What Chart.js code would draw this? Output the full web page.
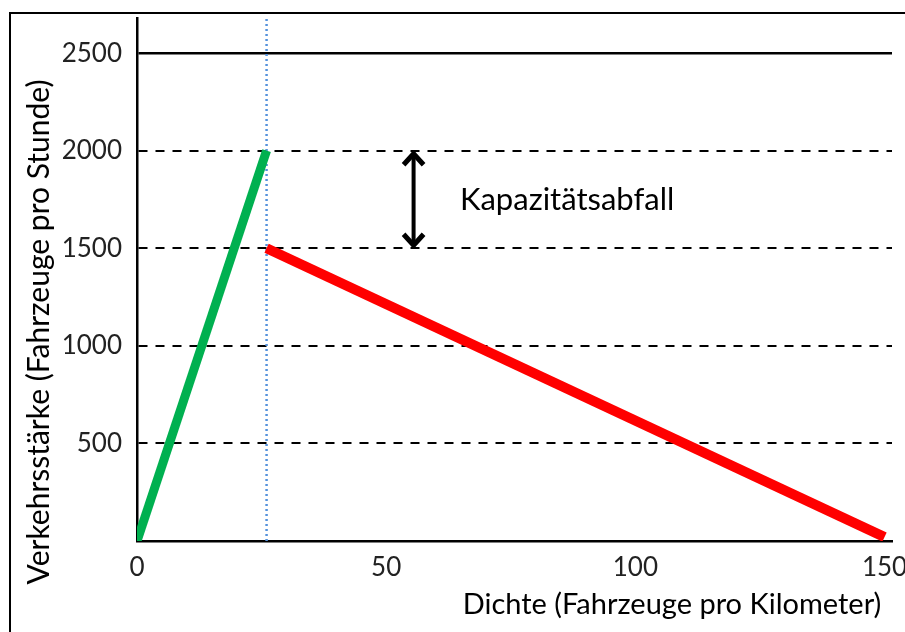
<!DOCTYPE html>
<html>
<head>
<meta charset="utf-8">
<script src="https://cdn.jsdelivr.net/npm/chart.js@4/dist/chart.umd.min.js"></script>
<style>
  html, body { margin: 0; padding: 0; background: #fff; }
  canvas { display: block; }
</style>
</head>
<body>
<canvas id="fundamental" width="905" height="632"></canvas>
<script>
// Daten
const freeX = [0, 26];          // freier Verkehr
const freeY = [0, 2000];
const jamX = [26, 150];         // gestauter Verkehr
const jamY = [1500, 20];
const markX = [26, 26];         // gepunktete Linie bei der kritischen Dichte
const markY = [0, 2680];
const xTicks = [0, 50, 100, 150];
const yTicks = [500, 1000, 1500, 2000, 2500];
const dropX = 55.5;             // Lage des Doppelpfeils
const dropY = [2000, 1500];
const dropLabel = 'Kapazitätsabfall';
const xTitle = 'Dichte (Fahrzeuge pro Kilometer)';
const yTitle = 'Verkehrsstärke (Fahrzeuge pro Stunde)';

const FONT = 'Lato, "Open Sans", sans-serif';

function toPoints(xs, ys) {
  return xs.map((x, i) => ({ x: x, y: ys[i] }));
}

// Rahmen, Achsentitel, Pfeil und Beschriftung
const extras = {
  id: 'extras',
  beforeDraw(chart) {
    const ctx = chart.ctx;
    ctx.save();
    ctx.fillStyle = '#fff';
    ctx.fillRect(0, 0, chart.width, chart.height);
    ctx.restore();
  },
  afterDraw(chart) {
    const ctx = chart.ctx;
    const xs = chart.scales.x, ys = chart.scales.y;
    ctx.save();
    // äußerer Rahmen
    ctx.strokeStyle = '#000';
    ctx.lineWidth = 2;
    ctx.strokeRect(10, 13, 1000, 1000);

    // Achsentitel
    ctx.fillStyle = '#000';
    ctx.font = '29px ' + FONT;
    ctx.textAlign = 'center';
    ctx.textBaseline = 'middle';
    ctx.fillText(xTitle, 672, 605);
    ctx.save();
    ctx.translate(39, 332);
    ctx.rotate(-Math.PI / 2);
    ctx.font = '30px ' + FONT;
    ctx.fillText(yTitle, 0, 0);
    ctx.restore();

    // Doppelpfeil
    const ax = xs.getPixelForValue(dropX);
    const top = ys.getPixelForValue(dropY[0]);
    const bot = ys.getPixelForValue(dropY[1]);
    ctx.strokeStyle = '#000';
    ctx.lineWidth = 4;
    ctx.beginPath();
    ctx.moveTo(ax, top + 2);
    ctx.lineTo(ax, bot - 2);
    ctx.stroke();
    ctx.lineWidth = 5;
    ctx.lineJoin = 'miter';
    ctx.beginPath();
    ctx.moveTo(ax - 10, top + 14);
    ctx.lineTo(ax, top + 3);
    ctx.lineTo(ax + 10, top + 14);
    ctx.moveTo(ax - 10, bot - 14);
    ctx.lineTo(ax, bot - 3);
    ctx.lineTo(ax + 10, bot - 14);
    ctx.stroke();

    // Beschriftung
    ctx.font = '31px ' + FONT;
    ctx.textAlign = 'left';
    ctx.fillText(dropLabel, 460, (top + bot) / 2 + 1);
    ctx.restore();
  }
};

new Chart(document.getElementById('fundamental'), {
  type: 'line',
  data: {
    datasets: [
      {
        data: toPoints(markX, markY),
        borderColor: '#5592dc',
        borderWidth: 2.5,
        borderDash: [2, 3],
        pointRadius: 0,
        order: 3
      },
      {
        data: toPoints(freeX, freeY),
        borderColor: '#00b050',
        borderWidth: 9,
        pointRadius: 0,
        order: 2
      },
      {
        data: toPoints(jamX, jamY),
        borderColor: '#ff0000',
        borderWidth: 10,
        pointRadius: 0,
        order: 1
      }
    ]
  },
  options: {
    responsive: false,
    animation: false,
    layout: { padding: { top: 18, right: 13, left: 0, bottom: 0 } },
    plugins: { legend: { display: false }, tooltip: { enabled: false } },
    scales: {
      x: {
        type: 'linear',
        min: 0,
        max: 151.5,
        afterBuildTicks: s => { s.ticks = xTicks.map(v => ({ value: v })); },
        afterFit: s => { s.height = 91; s.paddingLeft = 0; s.paddingRight = 0; },
        grid: { drawOnChartArea: false, drawTicks: false },
        border: { display: true, color: '#000', width: 2.5 },
        ticks: {
          color: '#222',
          font: { family: FONT, size: 26 },
          padding: 11,
          maxRotation: 0,
          autoSkip: false,
          callback: v => String(v)
        }
      },
      y: {
        min: 0,
        max: 2680,
        afterBuildTicks: s => { s.ticks = yTicks.map(v => ({ value: v })); },
        afterFit: s => { s.width = 137; s.paddingTop = 0; s.paddingBottom = 0; },
        grid: {
          color: '#000',
          lineWidth: c => (c.tick && c.tick.value === 2500) ? 2.5 : 2,
          drawTicks: false
        },
        border: {
          display: true,
          color: '#000',
          width: 2.5,
          dash: c => (c.tick && c.tick.value !== 2500) ? [9, 8] : []
        },
        ticks: {
          color: '#222',
          font: { family: FONT, size: 26 },
          padding: 15,
          autoSkip: false,
          callback: v => String(v)
        }
      }
    }
  },
  plugins: [extras]
});
</script>
</body>
</html>
